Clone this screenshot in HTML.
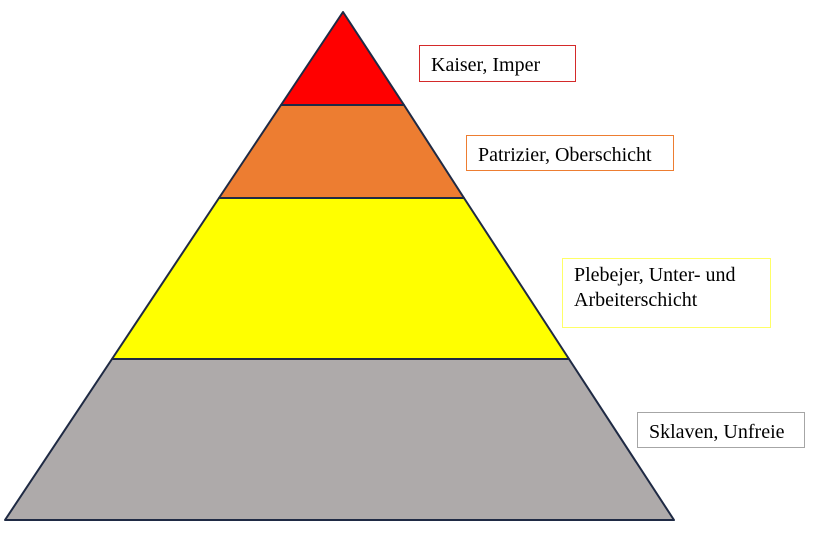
<!DOCTYPE html>
<html><head><meta charset="utf-8"><style>
body{margin:0;width:815px;height:540px;background:#fff;overflow:hidden;position:relative;font-family:"Liberation Serif",serif}
.b{position:absolute;box-sizing:border-box;background:#fff;font-size:20px;color:#000;padding-left:11px;line-height:25px;white-space:nowrap}
</style></head><body>
<svg width="815" height="540" style="position:absolute;left:0;top:0">
<g stroke="#1f2a44" stroke-width="2" stroke-linejoin="round">
<polygon points="5,520 112,359 569,359 674,520" fill="#aeaaaa"/>
<polygon points="112,359 219,198 464,198 569,359" fill="#ffff00"/>
<polygon points="219,198 281,105 404,105 464,198" fill="#ed7d31"/>
<polygon points="281,105 343,12 404,105" fill="#ff0000"/>
</g>
</svg>
<div class="b" style="left:419px;top:45px;width:157px;height:37px;border:1px solid #d42a2a;padding-top:7px">Kaiser, Imper</div>
<div class="b" style="left:466px;top:135px;width:208px;height:36px;border:1px solid #ed7d31;padding-top:7px">Patrizier, Oberschicht</div>
<div class="b" style="left:562px;top:258px;width:209px;height:70px;border:1px solid #ffff66;padding-top:4px">Plebejer, Unter- und<br>Arbeiterschicht</div>
<div class="b" style="left:637px;top:412px;width:168px;height:36px;border:1px solid #a6a6a6;padding-top:7px">Sklaven, Unfreie</div>
</body></html>
